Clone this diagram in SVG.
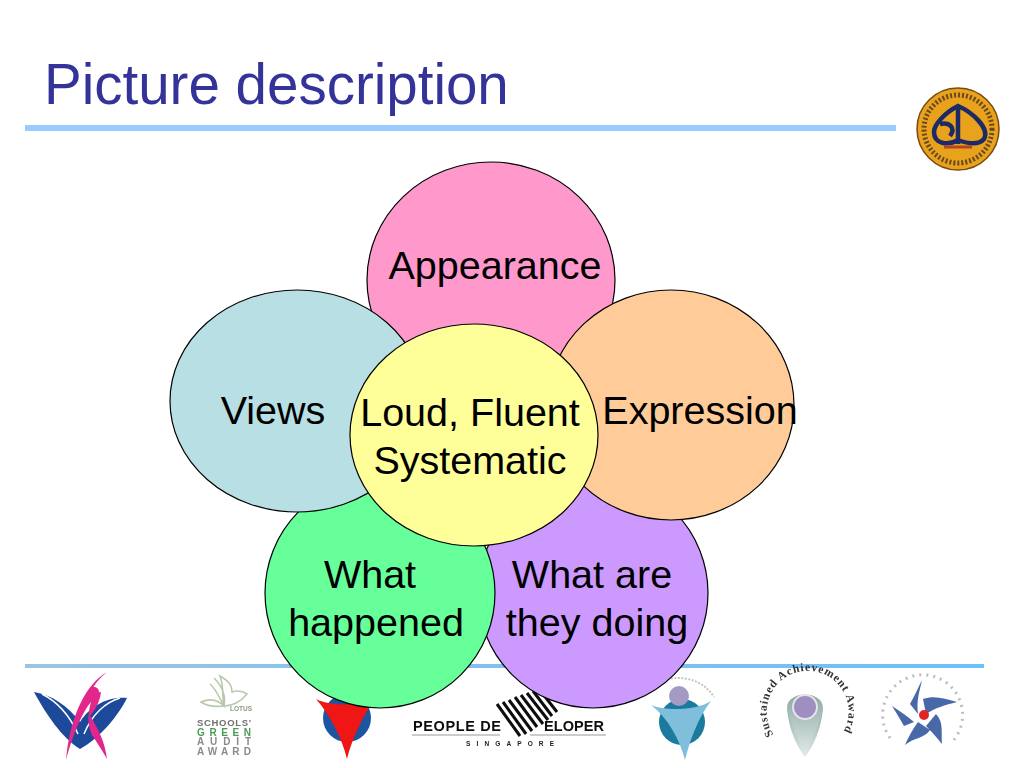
<svg xmlns="http://www.w3.org/2000/svg" width="1024" height="768" viewBox="0 0 1024 768">
<style>
.n{stroke:#000;stroke-width:1.2}
.t{font-family:"Liberation Sans",Arial,sans-serif;font-size:39.5px;fill:#000;text-anchor:middle}
.s{font-family:"Liberation Sans",Arial,sans-serif;font-weight:700}
.logo{filter:url(#soft)}
</style>
<defs>
<filter id="soft" x="-10%" y="-10%" width="120%" height="120%"><feGaussianBlur stdDeviation="0.55"/></filter>
<linearGradient id="rule" x1="0" x2="1" y1="0" y2="0"><stop offset="0" stop-color="#9cc4e2"/><stop offset="0.55" stop-color="#80c0f0"/><stop offset="1" stop-color="#6cc0fa"/></linearGradient>
<linearGradient id="tear" x1="0" x2="0" y1="0" y2="1"><stop offset="0" stop-color="#8fa8a4"/><stop offset="1" stop-color="#e2ecea"/></linearGradient>
<path id="arcA" d="M785 746A41 41 0 1 1 833 744"/>
<path id="arcB" d="M890 738A40 40 0 1 1 952 742"/>
</defs>
<rect width="1024" height="768" fill="#fff"/>
<g id="header">
<text x="44" y="104" font-family="'Liberation Sans',Arial,sans-serif" font-size="56.5" fill="#333399">Picture description</text>
<rect x="25" y="125" width="871" height="6" fill="#99ccff"/>
<rect x="25" y="664" width="959" height="4" fill="url(#rule)"/>
</g>
<g id="logo-school" class="logo">
<circle cx="958" cy="129" r="41" fill="#e8a21c" stroke="#7a4a10" stroke-width="1.5"/>
<circle cx="958" cy="129" r="34" fill="none" stroke="#6a4a20" stroke-width="5" stroke-dasharray="2 2"/>
<path d="M958 106C972 112 990 128 984 139C978 146 966 143 958 140C948 146 934 144 934 132C934 124 946 112 958 106ZM958 106V144M940 124C950 122 956 128 950 136" fill="none" stroke="#1c2a66" stroke-width="4.5"/>
<path d="M944 147H972" stroke="#b5432a" stroke-width="3"/>
</g>
<g id="logo-book" class="logo">
<path d="M34 692C52 695 68 706 80 722C90 706 108 696 127 698C118 716 100 738 80 749C62 738 46 714 34 692Z" fill="#1c4a9a"/>
<path d="M42 694C54 700 68 712 78 734M120 698C106 702 92 714 84 734" stroke="#fff" stroke-width="1.5" fill="none"/>
<path d="M107 672C86 684 70 716 66 760C74 730 84 710 91 702C87 716 88 726 92 735C98 744 103 752 107 759C105 742 98 728 90 716C97 708 100 700 101 692L90 694C94 684 100 678 107 672Z" fill="#e2268c"/>
<circle cx="94" cy="692" r="5" fill="#e2268c"/>
</g>
<g id="logo-green" class="logo">
<path d="M201 702C210 698 218 700 224 706C222 698 224 686 220 676C227 680 232 684 232 692C238 690 244 692 247 694C242 700 234 706 224 706C216 707 207 706 201 702ZM210 684C215 688 220 698 224 706M214 678C222 686 226 696 224 706" fill="none" stroke="#b9c9ae" stroke-width="1.6"/>
<text x="230" y="711" class="s" font-size="6.5" fill="#8c9a85">LOTUS</text>
<text x="197" y="726" class="s" font-size="9.5" fill="#6f6f6f" textLength="54">SCHOOLS'</text>
<text x="197" y="736" class="s" font-size="10" fill="#4a9c58" textLength="54">GREEN</text>
<text x="197" y="745" class="s" font-size="10" fill="#8a8a8a" textLength="54">AUDIT</text>
<text x="197" y="755" class="s" font-size="10" fill="#8a8a8a" textLength="54">AWARD</text>
</g>
<g id="logo-red" class="logo">
<circle cx="347" cy="718" r="24" fill="#1c55a0"/>
<path d="M316 699C328 706 362 706 374 699C364 715 352 738 347 759C342 738 330 715 316 699Z" fill="#f01414"/>
</g>
<g id="logo-people" class="logo">
<text x="413" y="731" class="s" font-size="14.5" fill="#111" textLength="88">PEOPLE DE</text>
<text x="544" y="731" class="s" font-size="14.5" fill="#111" textLength="60">ELOPER</text>
<path d="M497 704L520 736M503 702L526 734M509 700L532 731M515 697L537 727M521 695L543 724M527 693L548 720M533 691L552 716M539 689L557 712" stroke="#111" stroke-width="3" fill="none"/>
<path d="M412 735H500M530 735H606" stroke="#999" stroke-width="1"/>
<text x="466" y="746" class="s" font-size="6.5" fill="#222" textLength="88">SINGAPORE</text>
</g>
<g id="logo-blue" class="logo">
<path d="M664 680C685 674 705 682 714 697" fill="none" stroke="#c4c4c4" stroke-width="2" stroke-dasharray="2 1.5"/>
<circle cx="682" cy="722" r="23" fill="#1a7a9e"/>
<circle cx="679" cy="696" r="10" fill="#a49bc4"/>
<path d="M651 705C665 711 695 711 711 701C698 718 690 740 685 760C680 740 668 718 651 705Z" fill="#7fbfdc"/>
</g>
<g id="logo-award" class="logo">
<path d="M787 708C789 730 796 745 805 757C814 745 821 730 823 708C818 720 792 720 787 708Z" fill="url(#tear)"/>
<path d="M787 708C787 690 823 690 823 708C820 725 812 735 805 757C798 735 790 725 787 708Z" fill="url(#tear)"/>
<circle cx="805" cy="707" r="12" fill="#9f8fc0" stroke="#e4e4ea" stroke-width="2"/>
<text font-family="'Liberation Serif',serif" font-weight="700" font-size="11.5" letter-spacing="0.9" fill="#333"><textPath href="#arcA" startOffset="50%" text-anchor="middle">Sustained Achievement Award</textPath></text>
</g>
<g id="logo-star" class="logo">
<use href="#arcB" fill="none" stroke="#bdbdbd" stroke-width="3" stroke-dasharray="2 5"/>
<path d="M922 680C920 690 916 700 918 714L910 704C915 695 918 688 922 680ZM957 702C945 699 935 695 923 699L926 714C935 708 945 705 957 702ZM892 706C900 711 908 717 914 722L904 726C900 719 896 712 892 706ZM942 744C941 733 944 722 936 714L926 726C932 732 937 738 942 744ZM905 745C913 738 925 738 930 730L918 722C912 730 908 738 905 745Z" fill="#4a68a8"/>
<circle cx="924" cy="715" r="5" fill="#e02828"/>
</g>
<g id="node-appearance">
<ellipse class="n" cx="491" cy="280" rx="124" ry="118" fill="#ff99cc"/>
<text class="t" x="495" y="279">Appearance</text>
</g>
<g id="node-what-are-they-doing">
<ellipse class="n" cx="593" cy="593" rx="115" ry="115" fill="#cc99ff"/>
<text class="t" x="592" y="588">What are</text>
<text class="t" x="597" y="636">they doing</text>
</g>
<g id="node-what-happened">
<ellipse class="n" cx="380" cy="593" rx="115" ry="115" fill="#66ff99"/>
<text class="t" x="370" y="588">What</text>
<text class="t" x="376" y="636">happened</text>
</g>
<g id="node-views">
<ellipse class="n" cx="297" cy="401" rx="127" ry="111" fill="#b8dfe3"/>
<text class="t" x="273" y="424">Views</text>
</g>
<g id="node-expression">
<ellipse class="n" cx="671" cy="405" rx="123" ry="115" fill="#ffcc99"/>
<text class="t" x="700" y="424">Expression</text>
</g>
<g id="node-center">
<ellipse class="n" cx="474" cy="435" rx="124" ry="111" fill="#ffff99"/>
<text class="t" x="470" y="426">Loud, Fluent</text>
<text class="t" x="470" y="474">Systematic</text>
</g>
<g id="connectors"></g>
</svg>
